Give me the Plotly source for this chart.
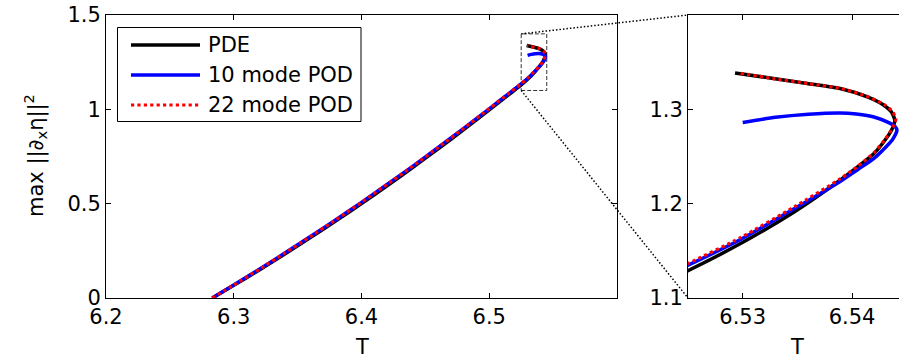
import plotly.graph_objects as go

# ---- data: bifurcation branch, max ||d_x eta||^2 against period T ----
T_pde = [6.2832, 6.3000, 6.3200, 6.3400, 6.3600, 6.3800, 6.4000, 6.4200, 6.4400, 6.4600,
         6.4800, 6.5000, 6.5150, 6.5250, 6.5298, 6.5347, 6.5389, 6.5405, 6.5420, 6.5430,
         6.5436, 6.5439, 6.5436, 6.5429, 6.5414, 6.5389, 6.5359, 6.5328, 6.5293]
v_pde = [0.000, 0.067, 0.148, 0.233, 0.320, 0.409, 0.500, 0.595, 0.691, 0.791,
         0.892, 0.997, 1.076, 1.1290, 1.1577, 1.1912, 1.2248, 1.2389, 1.2531, 1.2672,
         1.2778, 1.2884, 1.2972, 1.3044, 1.3132, 1.3221, 1.3274, 1.3327, 1.3386]

T_pod10 = [6.2832, 6.3000, 6.3200, 6.3400, 6.3600, 6.3800, 6.4000, 6.4200, 6.4400, 6.4600,
           6.4800, 6.5000, 6.5150, 6.5250, 6.5298, 6.5347, 6.5389, 6.5405, 6.5420, 6.5430,
           6.5437, 6.5441, 6.5439, 6.5434, 6.5420, 6.5404, 6.5389, 6.5360, 6.5330, 6.5300]
v_pod10 = [0.000, 0.069, 0.152, 0.238, 0.326, 0.415, 0.507, 0.602, 0.698, 0.798,
           0.899, 1.003, 1.082, 1.1347, 1.1620, 1.1945, 1.2235, 1.2360, 1.2480, 1.2590,
           1.2680, 1.2778, 1.2820, 1.2856, 1.2919, 1.2950, 1.2962, 1.2948, 1.2915, 1.2860]

T_pod22 = [6.2832, 6.3000, 6.3200, 6.3400, 6.3600, 6.3800, 6.4000, 6.4200, 6.4400, 6.4600,
           6.4800, 6.5000, 6.5150, 6.5250, 6.5298, 6.5347, 6.5389, 6.5405, 6.5420, 6.5430,
           6.5436, 6.5440, 6.5437, 6.5430, 6.5415, 6.5390, 6.5360, 6.5328, 6.5297]
v_pod22 = [0.000, 0.069, 0.152, 0.238, 0.326, 0.415, 0.507, 0.602, 0.698, 0.798,
           0.899, 1.004, 1.083, 1.1365, 1.1640, 1.1965, 1.2262, 1.2395, 1.2540, 1.2680,
           1.2785, 1.2890, 1.2975, 1.3045, 1.3132, 1.3220, 1.3273, 1.3326, 1.3383]

series_names = ["PDE", "10 mode POD", "22 mode POD"]

# axis ticks
main_xticks = [6.2, 6.3, 6.4, 6.5]
main_yticks = [0, 0.5, 1, 1.5]
main_yticklabels = ["0", "0.5", "1", "1.5"]
zoom_xticks = [6.53, 6.54]
zoom_yticks = [1.1, 1.2, 1.3]

# ---- layout geometry ----
W, H = 899, 358
ML, MR, MT, MB = 106, 0, 15, 60
PW, PH = W - ML - MR, H - MT - MB

main_xrange = [6.2, 6.6]
main_yrange = [0, 1.5]
zoom_box = dict(x0=6.525, x1=6.545, y0=1.1, y1=1.4)

main_dom = [0, (617 - ML) / PW]
zoom_dom = [(688 - ML) / PW, 1.0]
zoom_px_per_unit = 10940.0
zoom_xrange = [6.525, 6.525 + (W - 688) / zoom_px_per_unit]
zoom_yrange = [1.1, 1.4]


def px_x(px):
    return (px - ML) / PW


def px_y(py):
    return (H - MB - py) / PH


def data_to_paper(x, y, dom, xr, yr):
    fx = dom[0] + (x - xr[0]) / (xr[1] - xr[0]) * (dom[1] - dom[0])
    fy = (y - yr[0]) / (yr[1] - yr[0])
    return fx, fy


styles = [
    dict(color="black", width=3.5, dash="solid"),
    dict(color="#0000ff", width=3.5, dash="solid"),
    dict(color="#ff0000", width=3.2, dash="dot"),
]
data_sets = [(T_pde, v_pde), (T_pod10, v_pod10), (T_pod22, v_pod22)]

fig = go.Figure()
for (xs, ys), st, name in zip(data_sets, styles, series_names):
    for xa, ya in (("x", "y"), ("x2", "y2")):
        fig.add_trace(go.Scatter(
            x=xs, y=ys, mode="lines", name=name, showlegend=False,
            xaxis=xa, yaxis=ya,
            line=dict(color=st["color"], width=st["width"], dash=st["dash"],
                      shape="spline", smoothing=0.6),
        ))

FONT = dict(family="DejaVu Sans", size=21, color="black")
axis_common = dict(showline=True, linecolor="black", linewidth=1, ticks="inside",
                   ticklen=5, tickwidth=1, tickcolor="black", showgrid=False,
                   zeroline=False, tickfont=FONT)

shapes = []
annotations = []

# dashed box marking the magnified region
shapes.append(dict(type="rect", xref="x", yref="y", layer="below",
                   line=dict(color="#333333", width=1, dash="4px,2px"), **zoom_box))

# dotted connectors from the box to the magnified axes
for yy in (zoom_box["y1"], zoom_box["y0"]):
    ax, ay = data_to_paper(zoom_box["x0"], yy, main_dom, main_xrange, main_yrange)
    bx, by = data_to_paper(zoom_xrange[0], yy, zoom_dom, zoom_xrange, zoom_yrange)
    shapes.append(dict(type="line", xref="paper", yref="paper", x0=ax, y0=ay, x1=bx, y1=by,
                       line=dict(color="black", width=1.5, dash="1.5px,2px")))

# legend box
leg_x0, leg_x1, leg_y0, leg_y1 = 117.5, 361, 27.5, 121.5
shapes.append(dict(type="rect", xref="paper", yref="paper",
                   x0=px_x(leg_x0), x1=px_x(leg_x1), y0=px_y(leg_y0), y1=px_y(leg_y1),
                   fillcolor="white", line=dict(color="black", width=1)))
row_y = [45, 75, 105]
for st, name, ry in zip(styles, series_names, row_y):
    shapes.append(dict(type="line", xref="paper", yref="paper",
                       x0=px_x(131), x1=px_x(200), y0=px_y(ry), y1=px_y(ry),
                       line=dict(color=st["color"], width=st["width"], dash=st["dash"])))
    annotations.append(dict(text=name, xref="paper", yref="paper", x=px_x(206), y=px_y(ry),
                            xanchor="left", yanchor="middle", showarrow=False, font=FONT))

# axis titles
annotations.append(dict(text="T", xref="paper", yref="paper", x=px_x(362), y=px_y(347),
                        xanchor="center", yanchor="middle", showarrow=False, font=FONT))
annotations.append(dict(text="T", xref="paper", yref="paper", x=px_x(797), y=px_y(347),
                        xanchor="center", yanchor="middle", showarrow=False, font=FONT))
annotations.append(dict(text="max ||\u2202<sub>x</sub>\u03b7||<sup>2</sup>", xref="paper",
                        yref="paper", x=px_x(35), y=px_y(156), textangle=-90,
                        xanchor="center", yanchor="middle", showarrow=False, font=FONT))

fig.update_layout(
    width=W, height=H,
    margin=dict(l=ML, r=MR, t=MT, b=MB, pad=0),
    paper_bgcolor="white", plot_bgcolor="white",
    font=FONT, showlegend=False,
    xaxis=dict(domain=main_dom, range=main_xrange, tickvals=main_xticks,
               mirror="ticks", anchor="y", **axis_common),
    yaxis=dict(domain=[0, 1], range=main_yrange, tickvals=main_yticks,
               ticktext=main_yticklabels, mirror="ticks", anchor="x", **axis_common),
    xaxis2=dict(domain=zoom_dom, range=zoom_xrange, tickvals=zoom_xticks,
                mirror="ticks", anchor="y2", **axis_common),
    yaxis2=dict(domain=[0, 1], range=zoom_yrange, tickvals=zoom_yticks,
                mirror=False, anchor="x2", **axis_common),
    shapes=shapes, annotations=annotations,
)

fig.write_html("out.html")
